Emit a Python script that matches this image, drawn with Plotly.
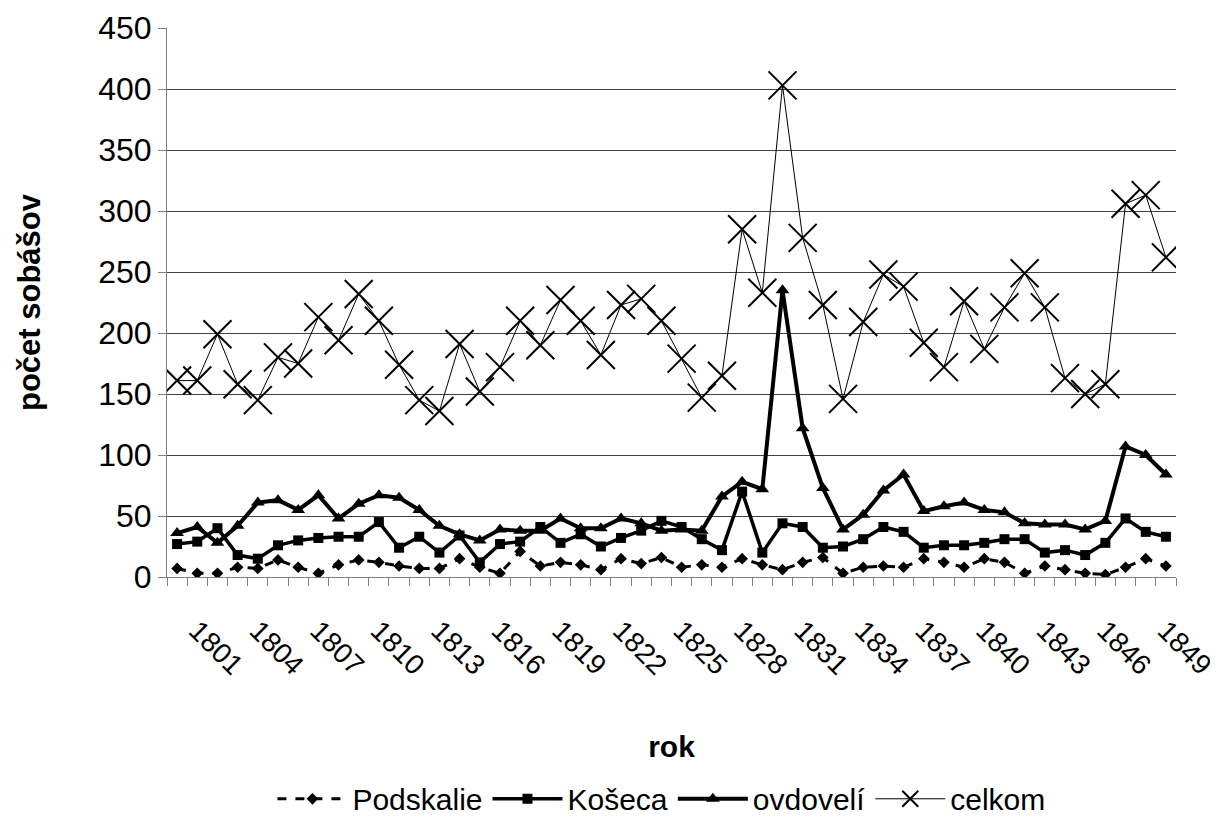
import plotly.graph_objects as go

years = list(range(1800, 1850))

podskalie = [7, 3, 3, 8, 7, 14, 8, 3, 10, 14, 12, 9, 7, 7, 15, 8,
             3, 21, 9, 12, 10, 6, 15, 11, 16, 8, 10, 8, 15, 10, 6, 12,
             16, 3, 8, 9, 8, 15, 12, 8, 15, 12, 3, 9, 6, 3, 2, 8, 15, 9]

koseca = [27, 29, 40, 18, 15, 26, 30, 32, 33, 33, 45, 24, 33, 20, 34, 12,
          27, 29, 41, 28, 35, 25, 32, 38, 46, 41, 31, 22, 70, 20, 44, 41,
          24, 25, 31, 41, 37, 24, 26, 26, 28, 31, 31, 20, 22, 18, 28, 48, 37, 33]

ovdoveli = [36, 41, 28, 42, 61, 63, 55, 67, 48, 60, 67, 65, 55, 42, 35, 30,
            39, 38, 38, 48, 40, 40, 48, 44, 38, 39, 38, 66, 78, 72, 235, 122,
            73, 39, 51, 71, 84, 54, 58, 61, 55, 53, 44, 43, 43, 39, 46, 107, 100, 84]

celkom = [161, 161, 199, 158, 145, 180, 175, 213, 194, 232, 210, 174, 145, 136, 191, 152,
          172, 210, 190, 227, 210, 182, 223, 228, 210, 179, 147, 165, 285, 233, 403, 278,
          223, 146, 209, 248, 238, 192, 172, 226, 187, 221, 249, 221, 163, 150, 158, 306, 313, 262]

tick_years = list(range(1801, 1850, 3))
y_ticks = list(range(0, 451, 50))

FONT = "Liberation Sans, Arial, sans-serif"

fig = go.Figure()
fig.add_trace(go.Scatter(x=years, y=podskalie, name="Podskalie", mode="lines+markers",
                         line=dict(color="black", width=3, dash="dash"),
                         marker=dict(symbol="diamond", size=9, color="black")))
fig.add_trace(go.Scatter(x=years, y=koseca, name="Košeca", mode="lines+markers",
                         line=dict(color="black", width=3.5),
                         marker=dict(symbol="square", size=10, color="black")))
fig.add_trace(go.Scatter(x=years, y=ovdoveli, name="ovdovelí", mode="lines+markers",
                         line=dict(color="black", width=4),
                         marker=dict(symbol="triangle-up", size=12, color="black")))
fig.add_trace(go.Scatter(x=years, y=celkom, name="celkom", mode="lines+markers",
                         line=dict(color="black", width=1),
                         marker=dict(symbol="x-thin", size=28, color="black",
                                     line=dict(color="black", width=2))))

# page body has an 8px margin, so the figure is sized to fit the 1218x823 window
fig.update_layout(
    width=1210, height=815,
    margin=dict(l=159, r=42, t=20, b=246, autoexpand=False),
    paper_bgcolor="white", plot_bgcolor="white",
    font=dict(family=FONT, size=30, color="black"),
    showlegend=True,
    legend=dict(orientation="h", x=0.49, xanchor="center", y=-0.404, yanchor="middle",
                font=dict(family=FONT, size=30), itemwidth=70, tracegroupgap=0),
)
fig.update_xaxes(
    range=[1799.5, 1849.5], automargin=False,
    tickmode="array", tickvals=tick_years, ticktext=[str(y) for y in tick_years],
    tickangle=45, ticks="", showgrid=False, zeroline=False,
    showline=True, linecolor="#808080", linewidth=1,
    tickfont=dict(family=FONT, size=28),
    ticklabelstandoff=25, ticklabeloverflow="allow",
    minor=dict(tick0=1799.5, dtick=1, ticks="outside", ticklen=8, tickcolor="#808080", showgrid=False),
    title=dict(text="<b>rok</b>", font=dict(family=FONT, size=30), standoff=56),
)
fig.update_yaxes(
    range=[0, 450], automargin=False, tickmode="array", tickvals=y_ticks,
    ticks="outside", ticklen=8, tickcolor="#808080",
    showgrid=True, gridcolor="#404040", gridwidth=1, zeroline=False,
    showline=True, linecolor="#808080", linewidth=1,
    tickfont=dict(family=FONT, size=32), ticklabeloverflow="allow",
    title=dict(text="<b>počet sobášov</b>", font=dict(family=FONT, size=31), standoff=48),
)

fig.write_html("out.html")
